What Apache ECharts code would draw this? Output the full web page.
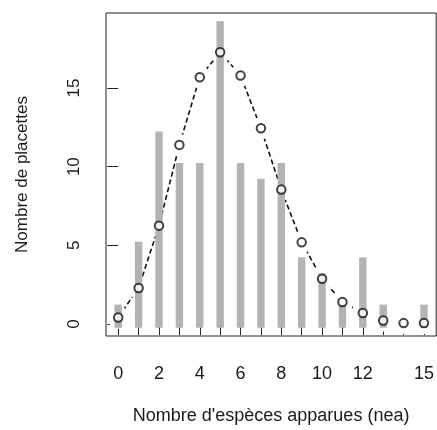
<!DOCTYPE html>
<html>
<head>
<meta charset="utf-8">
<script src="https://cdn.jsdelivr.net/npm/echarts@6/dist/echarts.min.js"></script>
<style>
html,body{margin:0;padding:0;background:#fff;}
#c{width:437px;height:430px;}
</style>
</head>
<body>
<div id="c"></div>
<script>
// Data
const species = [0,1,2,3,4,5,6,7,8,9,10,11,12,13,14,15];
const counts  = [1,5,12,10,10,19,10,9,10,4,3,1,4,1,0,1];
const fitted  = [0.42,2.29,6.25,11.38,15.68,17.27,15.79,12.44,8.54,5.19,2.88,1.40,0.70,0.23,0.06,0.06];
const xTickValues  = [0,1,2,3,4,5,6,7,8,9,10,11,12,13,14,15];
const xLabelValues = [0,2,4,6,8,10,12,15];
const yTickValues  = [0,5,10,15];
const xTitle = "Nombre d'espèces apparues (nea)";
const yTitle = "Nombre de placettes";

const barData = species.map((s,i)=>[s,counts[i]]);
const fitData = species.map((s,i)=>[s,fitted[i]]);

const chart = echarts.init(document.getElementById('c'), null, {renderer:'canvas'});
const font = '"Liberation Sans", Arial, sans-serif';
const ink = '#1a1a1a';

chart.setOption({
  animation:false,
  backgroundColor:'#fff',
  grid:{left:106, top:13, width:336, height:324, show:true, borderColor:'#222', borderWidth:1, backgroundColor:'transparent'},
  xAxis:{
    type:'value', min:-0.6, max:15.6,
    axisLine:{show:false},
    splitLine:{show:false},
    axisTick:{show:true, length:11, inside:false, customValues:xTickValues, lineStyle:{color:'#222', width:1}},
    axisLabel:{show:true, customValues:xLabelValues, margin:29, fontSize:18, fontFamily:font, color:ink, showMinLabel:true, showMaxLabel:true, hideOverlap:false},
    name:xTitle, nameLocation:'middle', nameGap:71,
    nameTextStyle:{fontSize:18, fontFamily:font, color:ink}
  },
  yAxis:{
    type:'value', min:-0.76, max:19.76,
    axisLine:{show:false},
    splitLine:{show:false},
    axisTick:{show:true, length:11, inside:false, customValues:yTickValues, lineStyle:{color:'#222', width:1}},
    axisLabel:{show:true, customValues:yTickValues, rotate:90, margin:23, fontSize:17, fontFamily:font, color:ink, hideOverlap:false},
    name:yTitle, nameLocation:'middle', nameGap:75,
    nameTextStyle:{fontSize:17, fontFamily:font, color:ink}
  },
  series:[
    {
      type:'line', data:fitData, z:1, silent:true,
      showSymbol:false, symbol:'none',
      lineStyle:{color:'#111', width:1.6, type:[5,3]}
    },
    {
      type:'scatter', data:fitData, z:2, silent:true,
      symbol:'circle', symbolSize:22,
      itemStyle:{color:'#fff', opacity:1}
    },
    {
      type:'custom', data:barData, z:3, silent:true,
      renderItem:function(params, api){
        const x = api.value(0), v = api.value(1);
        if (!v) return null;
        const top = api.coord([x, v]);
        const bot = api.coord([x, 0]);
        const w = 7.4, ext = 3.7;
        return {
          type:'rect',
          shape:{x: top[0]-w/2, y: top[1]-ext, width: w, height: (bot[1]-top[1]) + 2*ext},
          style:{fill:'#b3b3b3'}
        };
      }
    },
    {
      type:'scatter', data:fitData, z:4, silent:true,
      symbol:'circle', symbolSize:8.5,
      itemStyle:{color:'#fff', borderColor:'#111', borderWidth:2}
    }
  ]
});
</script>
</body>
</html>
